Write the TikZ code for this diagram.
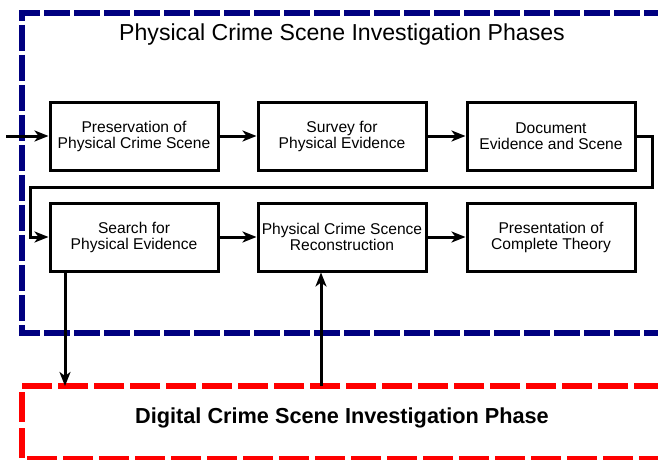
\documentclass[tikz,border=0pt]{standalone}
\usepackage{fontspec}
\setmainfont{Liberation Sans}
\usetikzlibrary{arrows.meta}
\definecolor{phblue}{RGB}{0,0,128}
\definecolor{phred}{RGB}{255,0,0}
\begin{document}
\begin{tikzpicture}[x=1pt,y=-1pt,
    phase/.style={draw,line width=3pt,minimum width=168pt,minimum height=68pt,
      align=center,inner sep=0pt,font=\fontsize{15.6}{16}\selectfont},
    flow/.style={line width=3pt,-{Stealth[length=14pt,width=11pt,inset=4pt]}}]
            \useasboundingbox (0,0) rectangle (658,460);
            \clip (0,0) rectangle (658,460);
            \draw[phblue,line width=5.5pt,dash pattern=on 26pt off 4pt]
                (700,13) -- (22,13) -- (22,333) -- (700,333);
            \draw[phred,line width=5.5pt,dash pattern=on 30pt off 6pt]
                (700,386) -- (22,386) -- (22,459) -- (700,459);
            \node (title) at (342,35) {\fontsize{23.1}{26}\selectfont Physical Crime Scene Investigation Phases};
            \node (digital) at (342,418) {\fontsize{21.7}{25}\selectfont\bfseries Digital Crime Scene Investigation Phase};
            \node[phase] (pres) at (134,136) {Preservation of\\Physical Crime Scene};
            \node[phase] (survey) at (342,136) {Survey for\\Physical Evidence};
            \node[phase] (doc) at (551,136) {Document\\Evidence and Scene};
            \node[phase] (search) at (134,237) {Search for\\Physical Evidence};
            \node[phase] (recon) at (342,237) {Physical Crime Scence\\Reconstruction};
            \node[phase] (theory) at (551,237) {Presentation of\\Complete Theory};
            \coordinate (entry) at (6,136);
            \draw[flow] (entry) -- (pres);
            \draw[flow] (pres) -- (survey);
            \draw[flow] (survey) -- (doc);
            \draw[flow] (doc.east) -- (652,136) -- (652,187) -- (30,187) -- (30,237) -- (search.west);
            \draw[flow] (search) -- (recon);
            \draw[flow] (recon) -- (theory);
            \coordinate (down) at (65,386);
            \coordinate (up) at (321,386);
            \draw[flow] (search.south -| down) -- (down);
            \draw[flow] (up) -- (recon.south -| up);
         \end{tikzpicture}
\end{document}
